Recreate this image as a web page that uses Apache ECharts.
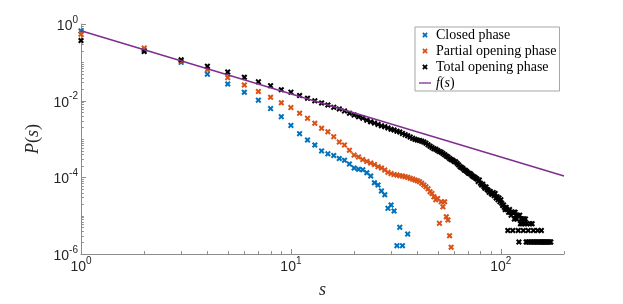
<!DOCTYPE html>
<html><head><meta charset="utf-8">
<script src="https://cdn.jsdelivr.net/npm/echarts@6/dist/echarts.min.js"></script>
<style>html,body{margin:0;padding:0;background:#fff}#c{width:623px;height:304px}</style>
</head><body><div id="c"></div>
<script>
// ---- data ----
const closedS = [1,2,3,4,5,6,7,8,9,10,11,12,13,14,15,16,17,18,19,20,21,22,23,24,25,26,27,28,29,30,31,32,33,34,36];
const closedP = [0.66,0.21,0.1,0.0492,0.0272,0.0166,0.0103,0.0062,0.00383,0.00226,0.00138,0.00094,0.0007,0.00049,0.00041,0.00037,0.00031,0.00028,0.000222,0.000175,0.000163,0.000158,0.000132,0.000108,0.000072,0.000063,0.000044,0.000035,0.0000155,0.000019,0.0000132,0.00000165,0.00000495,0.00000165,0.0000033];

const partialS = [1,2,3,4,5,6,7,8,9,10,11,12,13,14,15,16,17,18,19,20,21,22,23,24,25,26,27,28,29,30,31,32,33,34,35,36,37,38,39,40,41,42,43,44,45,46,47,48,49,50,51,52,53,54,55,56,57,58];
const partialP = [0.54,0.235,0.11,0.064,0.0398,0.0256,0.0173,0.0123,0.0088,0.0066,0.0047,0.00346,0.00258,0.0019,0.00155,0.00115,0.00083,0.0007,0.00051,0.00038,0.00034,0.00029,0.00026,0.000235,0.000215,0.00019,0.000175,0.000155,0.000135,0.000125,0.000118,0.000115,0.00011,0.000108,0.000104,0.0001,0.000094,0.00009,0.000085,0.000082,0.000077,0.00007,0.000063,0.000057,0.00005,0.000042,0.000038,0.000031,0.000026,0.000028,0.0000063,0.000023,0.000017,0.000023,0.0000094,0.0000077,0.000003,0.0000015];

const totalS = [1,2,3,4,5,6,7,8,9,10,11,12,13,14,15,16,17,18,19,20,21,22,23,24,25,26,27,28,29,30,31,32,33,34,35,36,37,38,39,40,41,42,43,44,45,46,47,48,49,50,51,52,53,54,55,56,57,58,59,60,61,62,63,64,65,66,67,68,69,70,71,72,73,74,75,76,77,78,79,80,81,82,83,84,85,86,87,88,89,90,91,92,93,94,95,96,97,98,99,100,101,102,103,104,105,106,107,108,109,110,111,112,113,114,115,116,117,118,119,120,121,122,123,124,125,126,127,128,129,130,131,132,133,134,135,136,138,139,141,142,143,144,146,148,150,151,153,155,156,157,159,161,163,165,167,169,171,173];
const totalP = [0.37,0.192,0.116,0.079,0.056,0.0407,0.031,0.0246,0.0192,0.0167,0.0136,0.0116,0.0099,0.0087,0.0077,0.0067,0.0061,0.0054,0.0047,0.0042,0.0038,0.0035,0.0031,0.0028,0.0026,0.0024,0.0022,0.0021,0.00195,0.0018,0.00172,0.0016,0.00152,0.0014,0.0013,0.00122,0.00112,0.00104,0.00098,0.00094,0.00092,0.00088,0.00083,0.00078,0.00071,0.00065,0.0006,0.00056,0.00054,0.0005,0.00047,0.00045,0.00042,0.00039,0.00036,0.00034,0.00031,0.00029,0.00028,0.00026,0.00025,0.00023,0.00021,0.00019,0.00018,0.00017,0.000155,0.00015,0.00014,0.00013,0.000125,0.00012,0.00011,0.000105,0.0001,0.000094,0.00009,0.000078,0.000085,0.00007,0.000063,0.000066,0.000058,0.000052,0.000056,0.000048,0.000046,0.000041,0.000043,0.000038,0.000036,0.00004,0.000033,0.000038,0.000029,0.000031,0.000026,0.000029,0.000023,0.000026,0.000021,0.0000185,0.000019,0.0000164,0.0000144,0.0000164,0.0000144,0.0000041,0.0000123,0.0000144,0.0000123,0.0000103,0.0000123,0.0000041,0.0000123,0.0000082,0.0000123,0.0000103,0.0000082,0.0000103,0.0000041,0.00000205,0.0000103,0.00000615,0.0000082,0.00000615,0.0000082,0.0000041,0.0000082,0.00000615,0.0000082,0.00000205,0.00000615,0.00000205,0.0000041,0.00000205,0.00000615,0.00000205,0.00000615,0.00000205,0.0000041,0.00000205,0.00000205,0.00000205,0.0000041,0.00000205,0.00000205,0.00000205,0.0000041,0.00000205,0.00000205,0.00000205,0.00000205,0.00000205,0.00000205,0.00000205,0.00000205,0.00000205];

const fitS = [1, 200];
const fitP = [0.67, 0.000108];

const seriesNames = ['Closed phase','Partial opening phase','Total opening phase','f(s)'];

// ---- style ----
const BLUE = '#0072BD', ORANGE = '#D95319', BLACK = '#000000', PURPLE = '#7E2F8E';
const AXIS = '#8c8c8c', TXT = '#262626';
const X_MIN = 1, X_MAX = 200, Y_MIN = 1e-6, Y_MAX = 1;
const X_PATH = 'path://M0 2.4L2.4 0L5 2.6L7.6 0L10 2.4L7.4 5L10 7.6L7.6 10L5 7.4L2.4 10L0 7.6L2.6 5Z';
const LINE_ICON = 'path://M0 0L12 0L12 1.3L0 1.3Z';

const pairs = (a, b) => a.map((v, i) => [v, b[i]]);

// tick positions (axis structure)
const xTicks = [];
for (let k = 0; k <= 2; k++) for (let m = 1; m <= 9; m++) {
  const v = m * Math.pow(10, k);
  if (v <= X_MAX) xTicks.push([v, Y_MIN, m === 1 ? 5 : 2.8]);
}
const yTicks = [];
for (let k = -6; k <= 0; k++) for (let m = 1; m <= 9; m++) {
  const v = m * Math.pow(10, k);
  if (v > Y_MAX * 1.0001) continue;
  const major = m === 1 && (k % 2 === 0);
  yTicks.push([X_MIN, v, major ? 5 : 2.8]);
}

const supLabel = (v) => {
  const e = Math.round(Math.log10(v));
  if (Math.abs(Math.pow(10, e) - v) > 1e-9 * v) return '';
  return '{b|10}{s|' + e + '}';
};
const labelRich = {
  b: {fontFamily: 'Liberation Sans', fontSize: 14, color: TXT, lineHeight: 18, verticalAlign: 'bottom'},
  s: {fontFamily: 'Liberation Sans', fontSize: 10, color: TXT, lineHeight: 18, verticalAlign: 'top'}
};

const chart = echarts.init(document.getElementById('c'), null, {renderer: 'canvas'});
const scatter = (name, s, p, color) => ({
  name, type: 'scatter', data: pairs(s, p), symbol: X_PATH, symbolSize: 6,
  itemStyle: {color, opacity: 1}, silent: true, animation: false
});
chart.setOption({
  animation: false,
  grid: {left: 81, right: 59, top: 24, bottom: 50, containLabel: false},
  xAxis: {
    type: 'log', logBase: 10, min: X_MIN, max: X_MAX,
    name: '{i|s}', nameLocation: 'middle', nameGap: 27,
    nameTextStyle: {rich: {i: {fontFamily: 'Liberation Serif', fontStyle: 'italic', fontSize: 18, color: TXT}}},
    axisLine: {show: true, lineStyle: {color: AXIS, width: 1}},
    axisTick: {show: false}, minorTick: {show: false},
    splitLine: {show: false},
    axisLabel: {formatter: supLabel, margin: 2, showMaxLabel: false, rich: labelRich}
  },
  yAxis: {
    type: 'log', logBase: 10, min: Y_MIN, max: Y_MAX,
    name: '{i|P}({i|s})', nameLocation: 'middle', nameGap: 36, nameRotate: 90,
    nameTextStyle: {fontFamily: 'Liberation Serif', fontSize: 18, color: TXT,
      rich: {i: {fontFamily: 'Liberation Serif', fontStyle: 'italic', fontSize: 18, color: TXT}}},
    axisLine: {show: true, lineStyle: {color: AXIS, width: 1}},
    axisTick: {show: false}, minorTick: {show: false},
    splitLine: {show: false},
    axisLabel: {formatter: (v) => { const e = Math.round(Math.log10(v)); return (e % 2 === 0) ? supLabel(v) : ''; }, margin: 3, rich: labelRich}
  },
  legend: {
    orient: 'vertical', left: 415, top: 27,
    padding: [0, 3, 0, 4], itemGap: 0, itemWidth: 12, itemHeight: 5.5,
    borderColor: '#a6a6a6', borderWidth: 1, backgroundColor: '#fff', borderRadius: 0,
    selectedMode: false,
    textStyle: {fontFamily: 'Liberation Serif', fontSize: 14, color: '#000', lineHeight: 16,
      rich: {i: {fontFamily: 'Liberation Serif', fontStyle: 'italic', fontSize: 14, color: '#000', lineHeight: 16}}},
    formatter: (n) => n === 'f(s)' ? '{i|f}({i|s})' : n,
    data: [
      {name: seriesNames[0], icon: X_PATH, itemStyle: {color: BLUE, borderWidth: 0}},
      {name: seriesNames[1], icon: X_PATH, itemStyle: {color: ORANGE, borderWidth: 0}},
      {name: seriesNames[2], icon: X_PATH, itemStyle: {color: BLACK, borderWidth: 0}},
      {name: seriesNames[3], icon: LINE_ICON, itemStyle: {color: PURPLE, borderWidth: 0}}
    ]
  },
  series: [
    {type: 'custom', coordinateSystem: 'cartesian2d', data: xTicks, silent: true, clip: false,
      renderItem: (params, api) => {
        const p = api.coord([api.value(0), Y_MIN]);
        const x = Math.round(p[0]) + 0.5;
        return {type: 'line', shape: {x1: x, y1: p[1], x2: x, y2: p[1] - api.value(2)}, style: {stroke: AXIS, lineWidth: 1}};
      }},
    {type: 'custom', coordinateSystem: 'cartesian2d', data: yTicks, silent: true, clip: false,
      renderItem: (params, api) => {
        const p = api.coord([X_MIN, api.value(1)]);
        const y = Math.round(p[1]) + 0.5;
        return {type: 'line', shape: {x1: p[0], y1: y, x2: p[0] + api.value(2), y2: y}, style: {stroke: AXIS, lineWidth: 1}};
      }},
    scatter(seriesNames[0], closedS, closedP, BLUE),
    scatter(seriesNames[1], partialS, partialP, ORANGE),
    scatter(seriesNames[2], totalS, totalP, BLACK),
    {name: seriesNames[3], type: 'line', data: pairs(fitS, fitP), showSymbol: false, symbol: 'none',
      lineStyle: {color: PURPLE, width: 1.5}, itemStyle: {color: PURPLE}, silent: true, animation: false}
  ]
});
</script>
</body></html>
